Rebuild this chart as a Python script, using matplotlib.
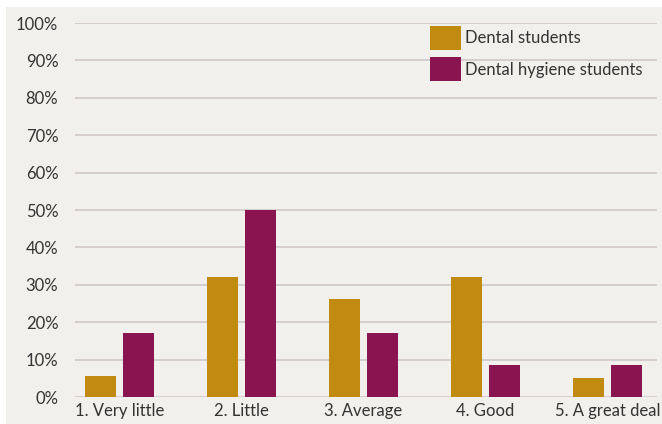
import matplotlib.pyplot as plt
from matplotlib.patches import Rectangle
import numpy as np

plt.rcParams['font.family'] = ['Lato', 'DejaVu Sans']

categories = ['1. Very little', '2. Little', '3. Average', '4. Good', '5. A great deal']
dental = [5.6, 32.2, 26.3, 32.2, 5.1]
hygiene = [17.1, 50.0, 17.1, 8.6, 8.6]
series_names = ['Dental students', 'Dental hygiene students']
yticks = [0, 10, 20, 30, 40, 50, 60, 70, 80, 90, 100]

W, H = 662, 424
fig = plt.figure(figsize=(W / 100, H / 100), dpi=100, facecolor='white')
# beige panel behind the chart
fig.patches.append(Rectangle((6 / W, 0), 1 - 6 / W, 1 - 7 / H, transform=fig.transFigure,
                             facecolor='#f2f0ed', edgecolor='none', zorder=-10))

ax = fig.add_axes([75 / W, 1 - 397 / H, (657 - 75) / W, (397 - 23) / H])
ax.set_facecolor('none')

x = np.arange(len(categories))
w = 0.254
off = 0.156
ax.bar(x - off, dental, w, color='#c08b10', label=series_names[0], zorder=3)
ax.bar(x + off, hygiene, w, color='#8a1450', label=series_names[1], zorder=3)

ax.set_ylim(0, 100)
ax.set_xlim(-0.365, 4.406)
ax.set_yticks(yticks)
ax.set_yticklabels([f'{v}%' for v in yticks])
ax.set_xticks(x)
ax.set_xticklabels(categories)
for v in yticks:
    ax.axhline(v, color='#d3cbcb', lw=1.3, zorder=1)

for s in ax.spines.values():
    s.set_visible(False)
ax.tick_params(axis='both', length=0, labelsize=12, colors='#333333')
ax.tick_params(axis='y', pad=12)
ax.tick_params(axis='x', pad=4)

ax.legend(loc='upper left', bbox_to_anchor=(430 / W, 1 - 26 / H), bbox_transform=fig.transFigure,
          frameon=False, fontsize=12, labelcolor='#333333', borderpad=0, borderaxespad=0,
          handlelength=1.86, handleheight=1.86, handletextpad=0.25, labelspacing=0.42)

fig.savefig('out.png', dpi=100, facecolor='white')
